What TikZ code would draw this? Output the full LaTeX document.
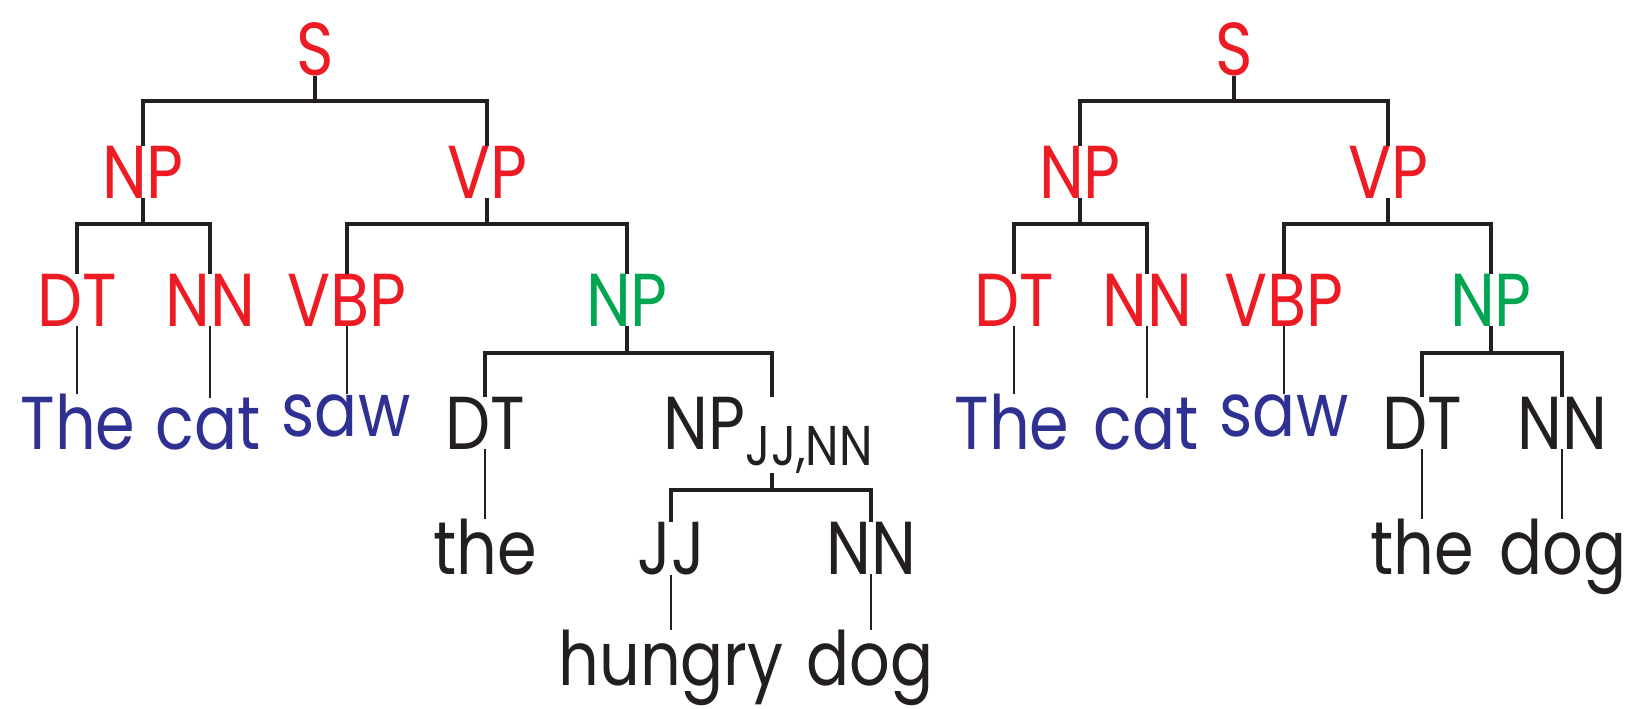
\documentclass[tikz,border=0pt]{standalone}
\usepackage{fontspec}
\setmainfont{Poppins}[FakeStretch=0.85]
\definecolor{catred}{RGB}{237,28,36}
\definecolor{catgreen}{RGB}{0,166,81}
\definecolor{wordblue}{RGB}{46,49,146}
\definecolor{ink}{RGB}{35,31,32}
\begin{document}
\begin{tikzpicture}[x=1pt,y=-1pt,
  every node/.style={inner sep=0pt, outer sep=0pt, anchor=base,
    font=\fontsize{75}{85}\selectfont, text=ink},
  phr/.style={text=catred},
  headnp/.style={text=catgreen},
  word/.style={text=wordblue},
  bar/.style={draw=ink, line width=4pt, line join=miter},
  stem/.style={draw=ink, line width=3.5pt},
  leaf/.style={draw=ink, line width=2.8pt}]
\useasboundingbox (0,0) rectangle (1636,709);

% ---------- left tree: the cat saw the hungry dog ----------
\node[phr] (ls) at (315,75) {S};
\node[phr] (lnp) at (143,198) {NP};
\node[phr] (lvp) at (487,198) {VP};
\node[phr] (ldt) at (77,326) {DT};
\node[phr] (lnn) at (210,326) {NN};
\node[phr] (lvbp) at (347,326) {VBP};
\node[headnp] (lobj) at (627,326) {NP};
\node[word] (lthe) at (78,449) {The};
\node[word] (lcat) at (208,449) {cat};
\node[word] (lsaw) at (346,436) {saw};
\node (ldt2) at (485,449) {DT};
\node (lnpx) at (768,449) {NP\kern1pt\raisebox{-16pt}{\fontsize{56}{62}\selectfont JJ,NN}};
\node (lthe2) at (485,574) {the};
\node (ljj) at (671,574) {JJ};
\node (lnn2) at (871,574) {NN};
\node (lhungry) at (671,685) {hungry};
\node (ldog) at (870,685) {dog};

\draw[stem] (ls.south) -- (ls.south |- 0,101);
\draw[bar] (lnp.north) |- (ls.south |- 0,101) -| (lvp.north);
\draw[stem] (lnp.south) -- (lnp.south |- 0,224);
\draw[bar] (ldt.north -| 77,0) |- (lnp.south |- 0,224) -| (lnn.north -| 210,0);
\draw[stem] (lvp.south) -- (lvp.south |- 0,224);
\draw[bar] (lvbp.north -| 347,0) |- (lvp.south |- 0,224) -| (lobj.north);
\draw[leaf] (ldt.south -| 77,0) -- (lthe.north -| 77,0);
\draw[leaf] (lnn.south -| 210,0) -- (lcat.north -| 210,0);
\draw[leaf] (lvbp.south -| 347,0) -- (lsaw.north -| 347,0);
\draw[stem] (lobj.south) -- (lobj.south |- 0,353);
\draw[bar] (ldt2.north) |- (lobj.south |- 0,353) -| (lnpx.north -| 772,0);
\draw[leaf] (ldt2.south) -- (lthe2.north);
\draw[stem] (lnpx.south -| 772,0) -- (772,490);
\draw[bar] (ljj.north) |- (772,490) -| (lnn2.north);
\draw[leaf] (ljj.south) -- (lhungry.north -| ljj.south);
\draw[leaf] (lnn2.south) -- (ldog.north -| lnn2.south);

% ---------- right tree: the cat saw the dog ----------
\node[phr] (rs) at (1234,75) {S};
\node[phr] (rnp) at (1080,198) {NP};
\node[phr] (rvp) at (1388,198) {VP};
\node[phr] (rdt) at (1014,326) {DT};
\node[phr] (rnn) at (1147,326) {NN};
\node[phr] (rvbp) at (1284,326) {VBP};
\node[headnp] (robj) at (1491,326) {NP};
\node[word] (rthe) at (1012,449) {The};
\node[word] (rcat) at (1146,449) {cat};
\node[word] (rsaw) at (1284,436) {saw};
\node (rdt2) at (1422,449) {DT};
\node (rnn2) at (1562,449) {NN};
\node (rthe2) at (1422,574) {the};
\node (rdog) at (1563,574) {dog};

\draw[stem] (rs.south) -- (rs.south |- 0,101);
\draw[bar] (rnp.north) |- (rs.south |- 0,101) -| (rvp.north);
\draw[stem] (rnp.south) -- (rnp.south |- 0,224);
\draw[bar] (rdt.north -| 1014,0) |- (rnp.south |- 0,224) -| (rnn.north -| 1147,0);
\draw[stem] (rvp.south) -- (rvp.south |- 0,224);
\draw[bar] (rvbp.north -| 1284,0) |- (rvp.south |- 0,224) -| (robj.north);
\draw[leaf] (rdt.south -| 1014,0) -- (rthe.north -| 1014,0);
\draw[leaf] (rnn.south -| 1147,0) -- (rcat.north -| 1147,0);
\draw[leaf] (rvbp.south -| 1284,0) -- (rsaw.north -| 1284,0);
\draw[stem] (robj.south) -- (robj.south |- 0,353);
\draw[bar] (rdt2.north) |- (robj.south |- 0,353) -| (rnn2.north);
\draw[leaf] (rdt2.south) -- (rthe2.north -| rdt2.south);
\draw[leaf] (rnn2.south) -- (rdog.north -| rnn2.south);
\end{tikzpicture}
\end{document}
